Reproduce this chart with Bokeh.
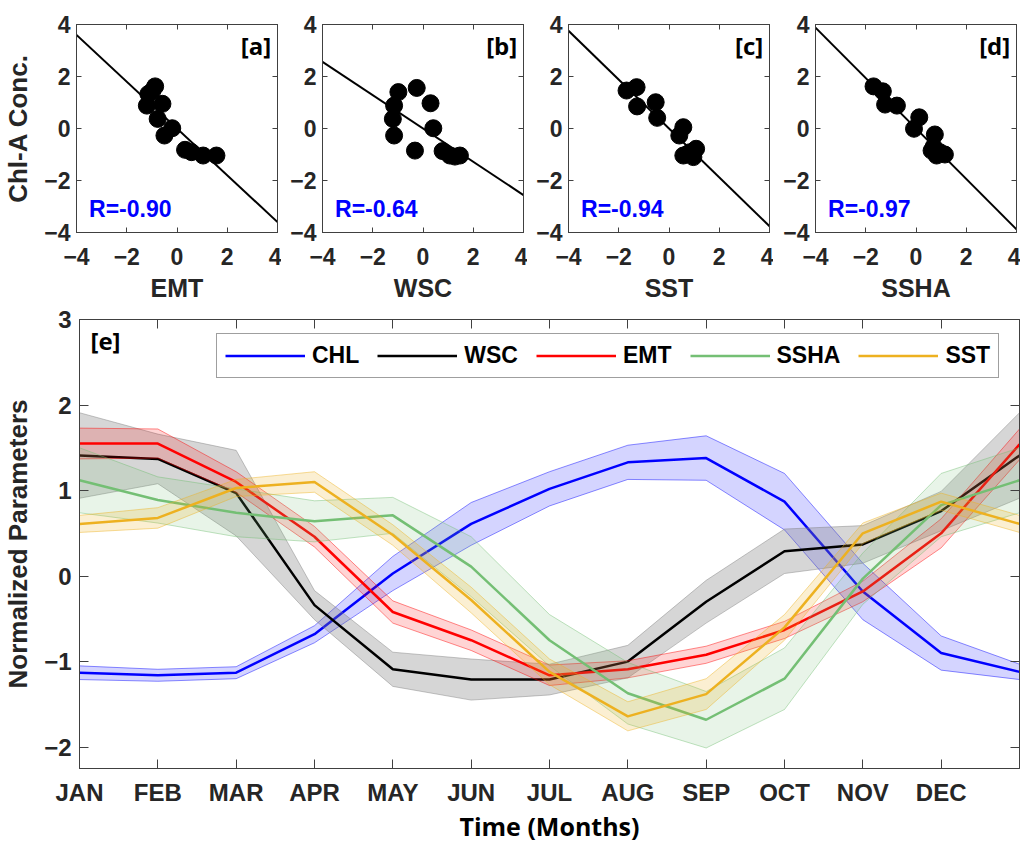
from bokeh.plotting import figure
from bokeh.layouts import column, row
from bokeh.models import (LinearAxis, Label, Legend, LegendItem, FixedTicker,
                          Range1d)
from bokeh.embed import file_html
from bokeh.resources import INLINE

# ---------------- data ----------------
# scatter panels (normalized monthly values vs normalized Chl-a)
emt_x = [-1.20, -1.14, -0.87, -0.98, -0.58, -0.77, -0.50, -0.19, 0.32, 0.58, 1.04, 1.57]
emt_y = [0.88, 1.33, 1.62, 1.45, 0.95, 0.37, -0.27, 0.01, -0.82, -0.91, -1.04, -1.04]
wsc_x = [-0.98, -0.25, 0.30, -1.15, -1.20, -1.15, 0.41, -0.32, 0.78, 1.07, 1.47, 1.27]
wsc_y = [1.40, 1.56, 0.97, 0.88, 0.37, -0.27, 0.01, -0.85, -0.87, -1.04, -1.04, -1.08]
sst_x = [-1.69, -1.29, -1.27, -0.53, -0.47, 0.57, 0.41, 0.57, 0.97, 1.08, 0.84, 0.70]
sst_y = [1.46, 1.59, 0.85, 1.01, 0.41, 0.05, -0.27, -1.04, -1.10, -0.78, -0.91, -1.00]
ssha_x = [-1.69, -1.32, -1.23, -0.76, -0.08, 0.13, 0.75, 0.62, 0.82, 1.15, 0.95, 0.70]
ssha_y = [1.62, 1.43, 0.92, 0.88, -0.01, 0.43, -0.23, -0.85, -1.04, -1.00, -0.91, -0.70]
r_values = [-0.90, -0.64, -0.94, -0.97]
scatter_names = ["EMT", "WSC", "SST", "SSHA"]
panel_tags = ["[a]", "[b]", "[c]", "[d]"]
scatter_ticks = [-4, -2, 0, 2, 4]

# time series (13 points: JAN..DEC and JAN again)
month_labels = ["JAN", "FEB", "MAR", "APR", "MAY", "JUN",
                "JUL", "AUG", "SEP", "OCT", "NOV", "DEC"]
month_pos = [1, 2, 3, 4, 5, 6, 7, 8, 9, 10, 11, 12, 13]
chl = [-1.13, -1.16, -1.13, -0.68, 0.03, 0.61, 1.02, 1.33, 1.38, 0.87, -0.18, -0.90, -1.12]
chl_err = [0.08, 0.07, 0.07, 0.10, 0.20, 0.25, 0.20, 0.20, 0.26, 0.33, 0.33, 0.20, 0.09]
wsc = [1.41, 1.37, 0.97, -0.34, -1.09, -1.21, -1.21, -1.00, -0.30, 0.29, 0.37, 0.76, 1.41]
wsc_err = [0.50, 0.29, 0.50, 0.17, 0.20, 0.24, 0.18, 0.19, 0.25, 0.26, 0.22, 0.23, 0.50]
emt = [1.55, 1.55, 1.10, 0.46, -0.42, -0.75, -1.16, -1.09, -0.92, -0.63, -0.18, 0.50, 1.54]
emt_err = [0.18, 0.17, 0.12, 0.12, 0.13, 0.12, 0.12, 0.10, 0.10, 0.10, 0.12, 0.17, 0.18]
ssha = [1.12, 0.89, 0.74, 0.64, 0.71, 0.11, -0.75, -1.37, -1.68, -1.20, -0.03, 0.83, 1.12]
ssha_err = [0.38, 0.27, 0.28, 0.24, 0.21, 0.35, 0.30, 0.36, 0.33, 0.36, 0.30, 0.37, 0.38]
sst = [0.61, 0.68, 1.03, 1.10, 0.48, -0.28, -1.12, -1.64, -1.38, -0.60, 0.50, 0.87, 0.61]
sst_err = [0.10, 0.12, 0.10, 0.12, 0.12, 0.15, 0.15, 0.17, 0.18, 0.15, 0.12, 0.10, 0.10]
y_ticks = [-2, -1, 0, 1, 2, 3]

# ---------------- style ----------------
AX = "#404040"
TXT = "#262626"
FONT = "Liberation Sans"


def style_axis(ax, size, tick_len):
    ax.axis_line_color = AX
    ax.axis_line_width = 1
    ax.major_tick_line_color = AX
    ax.minor_tick_line_color = None
    ax.major_tick_in = tick_len
    ax.major_tick_out = 0
    ax.major_label_text_font = FONT
    ax.major_label_text_font_style = "bold"
    ax.major_label_text_font_size = size
    ax.major_label_text_color = TXT
    ax.axis_label_text_font = FONT
    ax.axis_label_text_font_style = "bold"
    ax.axis_label_text_font_size = "25px"
    ax.axis_label_text_color = TXT


def mirror_axes(p, xticks, yticks, tick_len):
    for side, ticks in (("above", xticks), ("right", yticks)):
        ax = LinearAxis(ticker=FixedTicker(ticks=ticks))
        style_axis(ax, "0px", tick_len)
        ax.major_label_standoff = 0
        ax.major_label_overrides = {t: "" for t in ticks}
        p.add_layout(ax, side)


def scatter_panel(i, xs, ys, left):
    p = figure(frame_width=201, frame_height=208,
               x_range=Range1d(-4, 4), y_range=Range1d(-4, 4),
               output_backend="svg", toolbar_location=None,
               min_border_left=left, min_border_right=4,
               min_border_top=24, min_border_bottom=75)
    p.grid.visible = False
    p.outline_line_color = AX
    p.background_fill_color = "white"
    p.xaxis.ticker = FixedTicker(ticks=scatter_ticks)
    p.yaxis.ticker = FixedTicker(ticks=scatter_ticks)
    for ax in p.xaxis + p.yaxis:
        style_axis(ax, "23px", 5)
    p.xaxis.major_label_standoff = 15
    p.yaxis.major_label_standoff = 6
    p.xaxis.axis_label = scatter_names[i]
    p.xaxis.axis_label_standoff = 6
    if i == 0:
        p.yaxis.axis_label = "Chl-A Conc."
        p.yaxis.axis_label_text_font_size = "26px"
        p.yaxis.axis_label_standoff = 8
    mirror_axes(p, scatter_ticks, scatter_ticks, 5)
    r = r_values[i]
    p.line([-4, 4], [r * -4, r * 4], line_color="black", line_width=2)
    p.scatter(xs, ys, size=17, marker="circle", fill_color="black",
              line_color="black")
    p.add_layout(Label(x=-3.5, y=-3.1, text="R=%.2f" % r, text_color="#0000FF",
                       text_font=FONT, text_font_style="bold",
                       text_font_size="23px", text_baseline="middle"))
    p.add_layout(Label(x=3.75, y=3.2, text=panel_tags[i], text_color="black",
                       text_font="Open Sans", text_font_style="bold",
                       text_font_size="24px", text_baseline="middle",
                       text_align="right"))
    return p


pa = scatter_panel(0, emt_x, emt_y, 76)
pb = scatter_panel(1, wsc_x, wsc_y, 41)
pc = scatter_panel(2, sst_x, sst_y, 41)
pd = scatter_panel(3, ssha_x, ssha_y, 42)

# ---------------- time series panel ----------------
FH = 449
pe = figure(frame_width=940, frame_height=FH,
            x_range=Range1d(1, 13), y_range=Range1d(-2.25, 3),
            output_backend="svg", toolbar_location=None,
            min_border_left=76, min_border_right=4,
            min_border_top=12, min_border_bottom=74)
pe.grid.visible = False
pe.outline_line_color = AX
pe.xaxis.ticker = FixedTicker(ticks=month_pos[:12])
pe.xaxis.major_label_overrides = {m: lab for m, lab in zip(month_pos, month_labels)}
pe.yaxis.ticker = FixedTicker(ticks=y_ticks)
for ax in pe.xaxis + pe.yaxis:
    style_axis(ax, "24px", 9)
pe.xaxis.major_label_standoff = 10
pe.yaxis.major_label_standoff = 8
pe.xaxis.axis_label = "Time (Months)"
pe.xaxis.axis_label_text_font = "Open Sans"
pe.xaxis.axis_label_text_font_size = "25px"
pe.xaxis.axis_label_text_color = "black"
pe.xaxis.axis_label_standoff = 0
pe.yaxis.axis_label = "Normalized Parameters"
pe.yaxis.axis_label_text_font_size = "26px"
pe.yaxis.axis_label_standoff = 8
mirror_axes(pe, month_pos[:12], y_ticks, 9)

series = [
    ("CHL", chl, chl_err, "#0000FF", "#0000FF", 0.17),
    ("WSC", wsc, wsc_err, "#000000", "#808080", 0.32),
    ("EMT", emt, emt_err, "#FF0000", "#FF0000", 0.17),
    ("SSHA", ssha, ssha_err, "#74BF74", "#74BF74", 0.17),
    ("SST", sst, sst_err, "#EDB120", "#EDB120", 0.20),
]
items = []
for name, vals, err, col, bcol, alpha in series:
    lo = [v - e for v, e in zip(vals, err)]
    hi = [v + e for v, e in zip(vals, err)]
    pe.varea(x=month_pos, y1=lo, y2=hi, fill_color=bcol, fill_alpha=alpha)
    pe.line(month_pos, lo, line_color=bcol, line_alpha=0.45, line_width=1)
    pe.line(month_pos, hi, line_color=bcol, line_alpha=0.45, line_width=1)
    r = pe.line(month_pos, vals, line_color=col, line_width=2.5)
    items.append(LegendItem(label=name, renderers=[r]))

legend = Legend(items=items, orientation="horizontal",
                location=(137, FH - 20 - 39),
                glyph_width=80, glyph_height=23, label_height=23,
                label_standoff=7, spacing=18, padding=8, margin=0,
                label_text_font=FONT, label_text_font_style="bold",
                label_text_font_size="23px", label_text_color="black",
                border_line_color=AX, border_line_width=1,
                background_fill_color="white", background_fill_alpha=1)
pe.add_layout(legend)
pe.add_layout(Label(x=1.14, y=2.76, text="[e]", text_color="black",
                    text_font="Open Sans", text_font_style="bold",
                    text_font_size="24px", text_baseline="middle"))

layout = column(row(pa, pb, pc, pd, spacing=0), pe, spacing=0)
open("out.html", "w").write(file_html(layout, INLINE))
